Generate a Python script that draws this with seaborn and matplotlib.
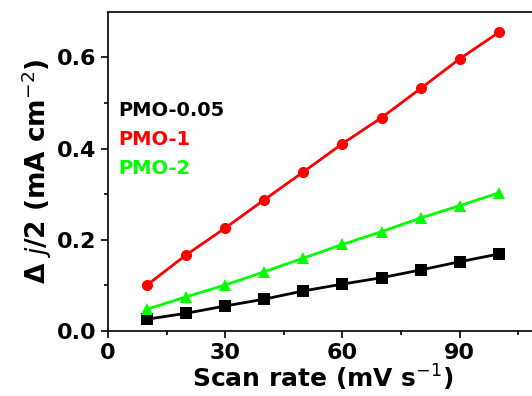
import numpy as np
import pandas as pd
import seaborn as sns
from matplotlib import pyplot as plt

#===== DATA =====================================
scan_rate = [10, 20, 30, 40, 50, 60, 70, 80, 90, 100]
pmo_005 = [0.026, 0.039, 0.055, 0.070, 0.088, 0.103, 0.117, 0.134, 0.152, 0.169]
pmo_1 = [0.101, 0.167, 0.226, 0.288, 0.349, 0.411, 0.468, 0.532, 0.597, 0.655]
pmo_2 = [0.048, 0.075, 0.101, 0.130, 0.160, 0.190, 0.218, 0.248, 0.275, 0.303]
names = ["PMO-0.05", "PMO-1", "PMO-2"]
colors = ["#000000", "#ff0000", "#00ff00"]
markers = ["s", "o", "^"]

#===== PLOT =====================================
sns.set_style("ticks", {"axes.edgecolor": "black", "xtick.color": "black",
                        "ytick.color": "black", "text.color": "black",
                        "axes.labelcolor": "black"})
plt.rcParams['font.family'] = ['DejaVu Sans']

df = pd.DataFrame({
    "rate": scan_rate * 3,
    "val": pmo_005 + pmo_1 + pmo_2,
    "sample": [n for n in names for _ in scan_rate],
})

fig = plt.figure(figsize=(5.32, 3.96), dpi=100)
ax = fig.add_axes([0.203, 0.164, 0.808, 0.806])

sns.lineplot(data=df, x="rate", y="val", hue="sample", style="sample",
             palette=colors, markers=markers, dashes=False, markersize=8,
             linewidth=2, markeredgewidth=0, legend=False, ax=ax)

ax.set_xlim(0, 110)
ax.set_ylim(0, 0.7)
ax.set_xticks([0, 30, 60, 90])
ax.set_xticks([15, 45, 75, 105], minor=True)
ax.set_yticks([0.0, 0.2, 0.4, 0.6])
ax.set_yticks([0.1, 0.3, 0.5], minor=True)
ax.set_yticklabels(["0.0", "0.2", "0.4", "0.6"])
ax.tick_params(which="major", direction="out", length=5, width=1.2, labelsize=16)
ax.tick_params(which="minor", direction="out", length=3, width=1.2)
for lab in ax.get_xticklabels() + ax.get_yticklabels():
    lab.set_fontweight("bold")
for s in ax.spines.values():
    s.set_linewidth(1.2)

ax.set_xlabel("Scan rate (mV s$^{-1}$)", fontsize=18, fontweight="bold", labelpad=0)
ax.set_ylabel("Δ $j$/2 (mA cm$^{-2}$)", fontsize=19, fontweight="bold", labelpad=2)

for i, (n, c) in enumerate(zip(names, colors)):
    ax.text(0.025, 0.69 - i * 0.09, n, color=c, fontsize=14, fontweight="bold",
            transform=ax.transAxes, va="center", ha="left")

fig.savefig("out.png", dpi=100)
